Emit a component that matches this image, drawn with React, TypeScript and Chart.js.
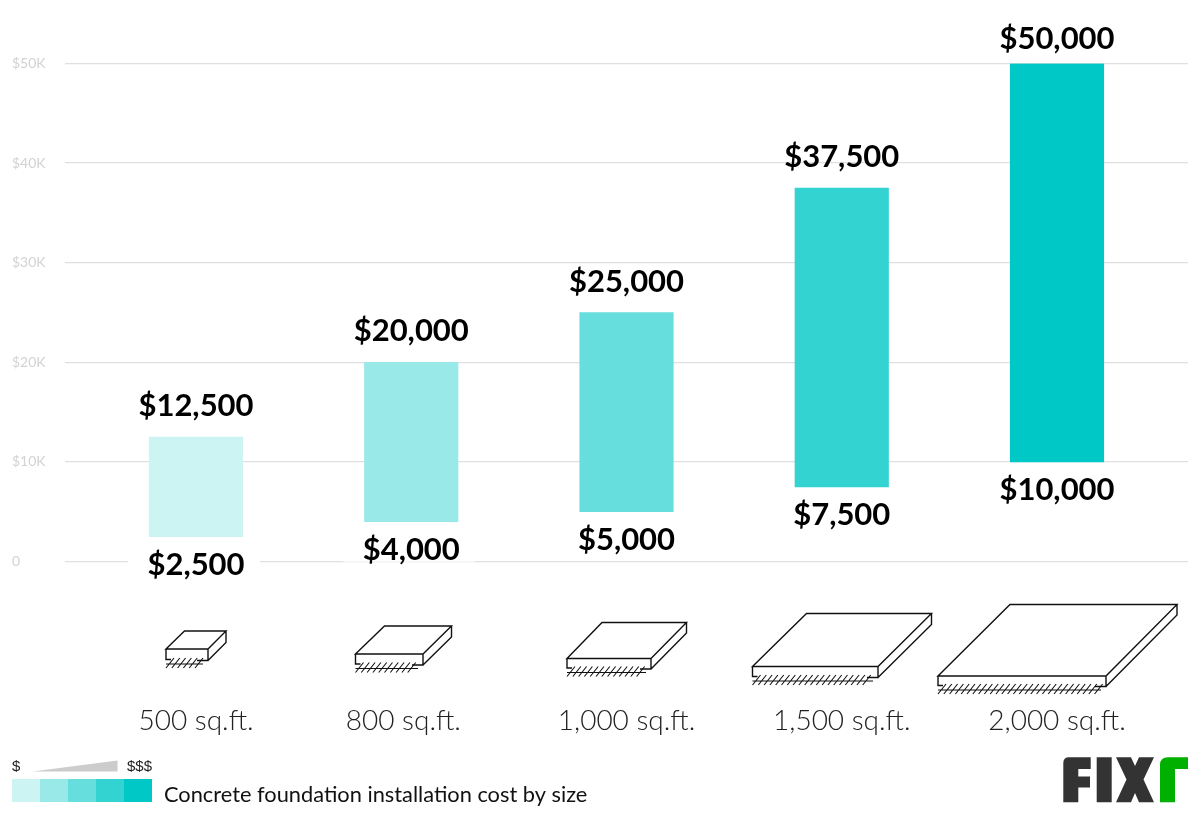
import React, { useEffect, useRef } from "react";
import { Chart, registerables } from "chart.js";

Chart.register(...registerables);

const sizeLabels = ["500 sq.ft.", "800 sq.ft.", "1,000 sq.ft.", "1,500 sq.ft.", "2,000 sq.ft."];
const lowCosts = [2500, 4000, 5000, 7500, 10000];
const highCosts = [12500, 20000, 25000, 37500, 50000];
const barColors = ["#ccf4f3", "#99e9e8", "#66dedd", "#33d3d2", "#00c8c7"];
const yTicks = [0, 10000, 20000, 30000, 40000, 50000];
const yTickLabels = ["0", "$10K", "$20K", "$30K", "$40K", "$50K"];
const sizeLabelPositions = [0, 0.963, 2, 3, 4];
const captionText = "Concrete foundation installation cost by size";

// Decorative slab drawings: [frontLeft, frontRight, backLeft, backRight, backY, frontY, thickness]
const slabs = [
  [166, 208, 184.5, 226, 631, 649, 11.5],
  [355.5, 423, 384.5, 451.5, 626, 654, 11],
  [567, 651, 602, 686.5, 622.5, 658.5, 10.5],
  [752.5, 878, 806.5, 931.5, 613.5, 666.5, 11],
  [938, 1106, 1010, 1177, 604.5, 676, 10.5],
];

function money(v: number) {
  return "$" + v.toLocaleString("en-US");
}

const overlay = {
  id: "overlay",
  afterDatasetsDraw(chart: any) {
    const { ctx } = chart;
    const meta = chart.getDatasetMeta(0);
    ctx.save();
    ctx.textAlign = "center";
    ctx.textBaseline = "middle";
    ctx.font = "bold 31px Lato";
    meta.data.forEach((bar: any, i: number) => {
      const props = bar.getProps(["x", "y", "base"], true);
      const bottom = Math.max(props.y, props.base);
      const top = Math.min(props.y, props.base);
      ctx.fillStyle = "#ffffff";
      ctx.fillRect(props.x - 68, bottom + 16, 132, 24);
      ctx.fillStyle = "#000000";
      ctx.fillText(money(highCosts[i]), props.x, Math.max(39, top - 31));
      ctx.fillText(money(lowCosts[i]), props.x, bottom + 28.5);
    });
    ctx.restore();

    // slab icons
    ctx.save();
    ctx.strokeStyle = "#111111";
    ctx.lineWidth = 1.4;
    ctx.lineJoin = "miter";
    slabs.forEach(([fl, fr, bl, br, by, fy, t]) => {
      const fb = fy + t;
      ctx.beginPath();
      ctx.moveTo(fl, fy);
      ctx.lineTo(bl, by);
      ctx.lineTo(br, by);
      ctx.lineTo(fr, fy);
      ctx.closePath();
      ctx.moveTo(fl, fy);
      ctx.lineTo(fl, fb - 1);
      ctx.lineTo(fl + 5, fb - 1);
      ctx.moveTo(fr, fy);
      ctx.lineTo(fr, fb);
      ctx.lineTo(fr - 11, fb);
      ctx.moveTo(br, by);
      ctx.lineTo(br, by + t);
      ctx.lineTo(fr, fb);
      ctx.stroke();
      ctx.beginPath();
      ctx.lineWidth = 1.1;
      ctx.moveTo(fl, fb + 3.5);
      ctx.lineTo(fr - 5, fb + 3.5);
      for (let x = fl; x < fr - 11; x += 5.8) {
        ctx.moveTo(x, fb + 7.5);
        ctx.lineTo(x + 8, fb - 2.5);
      }
      ctx.stroke();
      ctx.lineWidth = 1.4;
    });
    ctx.restore();

    // legend
    ctx.save();
    barColors.forEach((c, i) => {
      ctx.fillStyle = c;
      ctx.fillRect(12 + i * 28, 779, 28, 23);
    });
    ctx.fillStyle = "#cccccc";
    ctx.beginPath();
    ctx.moveTo(32.5, 771.5);
    ctx.lineTo(117.5, 771.5);
    ctx.lineTo(117.5, 760.5);
    ctx.closePath();
    ctx.fill();
    ctx.fillStyle = "#222222";
    ctx.textBaseline = "middle";
    ctx.textAlign = "left";
    ctx.font = "15px 'Liberation Sans'";
    ctx.fillText("$", 12, 767);
    ctx.fillText("$$$", 127, 767);
    ctx.font = "21.8px Lato";
    ctx.fillStyle = "#111111";
    ctx.fillText(captionText, 164, 795);
    ctx.restore();

    // logo
    ctx.save();
    ctx.fillStyle = "#333333";
    ctx.beginPath();
    ctx.moveTo(1063.3, 802.3);
    ctx.lineTo(1063.3, 763);
    ctx.quadraticCurveTo(1063.3, 757.3, 1069, 757.3);
    ctx.lineTo(1090.7, 757.3);
    ctx.lineTo(1090.7, 769);
    ctx.lineTo(1078.3, 769);
    ctx.lineTo(1078.3, 776.5);
    ctx.lineTo(1090, 776.5);
    ctx.lineTo(1090, 787.5);
    ctx.lineTo(1078.3, 787.5);
    ctx.lineTo(1078.3, 802.3);
    ctx.closePath();
    ctx.rect(1096.7, 757.3, 15, 45);
    ctx.moveTo(1116, 757.3);
    ctx.lineTo(1131, 757.3);
    ctx.lineTo(1135, 766);
    ctx.lineTo(1139, 757.3);
    ctx.lineTo(1154, 757.3);
    ctx.lineTo(1143.5, 779.5);
    ctx.lineTo(1154, 802.3);
    ctx.lineTo(1139, 802.3);
    ctx.lineTo(1135, 793);
    ctx.lineTo(1131, 802.3);
    ctx.lineTo(1116, 802.3);
    ctx.lineTo(1126.5, 779.5);
    ctx.closePath();
    ctx.fill();
    ctx.fillStyle = "#00b000";
    ctx.beginPath();
    ctx.moveTo(1160, 802.3);
    ctx.lineTo(1160, 765);
    ctx.quadraticCurveTo(1160, 757.3, 1168, 757.3);
    ctx.lineTo(1188, 757.3);
    ctx.lineTo(1188, 769);
    ctx.lineTo(1175, 769);
    ctx.lineTo(1175, 802.3);
    ctx.closePath();
    ctx.fill();
    ctx.restore();
  },
};

export default function App() {
  const ref = useRef<HTMLCanvasElement | null>(null);
  useEffect(() => {
    if (!ref.current) return;
    const chart = new Chart(ref.current, {
      type: "bar",
      data: {
        datasets: [
          {
            data: lowCosts.map((lo, i) => ({ x: i, y: [lo, highCosts[i]] })) as any,
            backgroundColor: barColors,
            borderWidth: 0,
            borderSkipped: false,
            barThickness: 93.5,
          },
        ],
      },
      options: {
        animation: false,
        responsive: false,
        layout: { padding: { left: 12, top: 63.5, right: 12, bottom: 0 } },
        plugins: { legend: { display: false }, tooltip: { enabled: false }, title: { display: false } },
        scales: {
          x: {
            type: "linear",
            offset: false,
            min: -0.6086,
            max: 4.6086,
            grid: { display: false },
            border: { display: false },
            afterFit(scale: any) {
              scale.height = 252.5;
              scale.paddingLeft = 0;
              scale.paddingRight = 0;
            },
            afterBuildTicks(scale: any) {
              scale.ticks = sizeLabelPositions.map((value) => ({ value }));
            },
            ticks: {
              autoSkip: false,
              maxRotation: 0,
              minRotation: 0,
              padding: 135,
              color: "#222222",
              font: { family: "Lato", size: 28, weight: "300" },
              callback: (_v: any, i: number) => sizeLabels[i],
            },
          },
          y: {
            min: 0,
            max: 50000,
            afterFit(scale: any) {
              scale.width = 53;
            },
            afterBuildTicks(scale: any) {
              scale.ticks = yTicks.map((value) => ({ value }));
            },
            grid: { color: "#e0e0e0", lineWidth: 1.3, drawTicks: false },
            border: { display: false },
            ticks: {
              crossAlign: "far",
              padding: 0,
              color: "#d2d2d2",
              font: { family: "Lato", size: 14 },
              callback: (_v: any, i: number) => yTickLabels[i],
            },
          },
        },
      } as any,
      plugins: [overlay],
    });
    return () => chart.destroy();
  }, []);
  return (
    <canvas
      ref={ref}
      width={1200}
      height={814}
      style={{ position: "fixed", left: 0, top: 0, width: 1200, height: 814, display: "block" }}
    />
  );
}
